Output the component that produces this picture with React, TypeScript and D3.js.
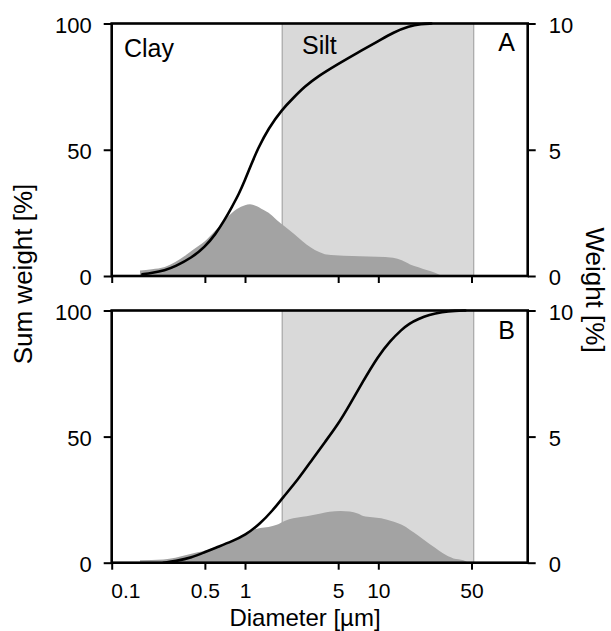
import { useEffect, useRef } from 'react';
import * as d3 from 'd3';

// panel A — cumulative curve (sum weight %) against diameter in µm
const cumSizeA = [0.17, 0.2, 0.25, 0.3, 0.4, 0.5, 0.6, 0.7, 0.8, 0.9, 1.0, 1.1, 1.25, 1.5, 1.9, 2.3, 2.8, 3.5, 5, 7, 10, 13, 17, 21, 25];
const cumValA = [0.7, 1.2, 2.2, 3.8, 7.3, 11.5, 16.5, 22, 27.5, 32.5, 38, 43.5, 50.5, 58.5, 66, 70.5, 75, 79, 84, 88.5, 93, 96.5, 99, 99.8, 100];

// panel A — weight distribution (%)
const histSizeA = [0.163, 0.2, 0.25, 0.3, 0.35, 0.41, 0.5, 0.6, 0.73, 0.87, 1.0, 1.09, 1.2, 1.37, 1.55, 1.73, 2.0, 2.3, 2.7, 3.1, 3.6, 4.1, 5.5, 7.3, 9.8, 12.9, 15, 17.3, 20, 23, 26, 29];
const histValA = [0.22, 0.27, 0.36, 0.55, 0.78, 1.05, 1.38, 1.8, 2.3, 2.65, 2.8, 2.84, 2.78, 2.62, 2.45, 2.22, 1.95, 1.69, 1.38, 1.14, 0.95, 0.85, 0.8, 0.78, 0.76, 0.72, 0.62, 0.46, 0.35, 0.24, 0.15, 0.04];

// panel B
const cumSizeB = [0.245, 0.3, 0.4, 0.5, 0.6, 0.8, 1.0, 1.3, 1.6, 1.9, 2.5, 3.2, 4, 5, 6, 7.6, 10, 12.3, 15, 17, 20, 24, 30, 38, 45];
const cumValB = [0, 0.6, 2.0, 4.2, 5.9, 8.5, 10.8, 15.5, 20.5, 25.5, 33, 41, 48, 55, 62, 71.5, 82, 88, 92.5, 94.8, 96.7, 98.3, 99.4, 99.9, 100];

const histSizeB = [0.163, 0.244, 0.3, 0.41, 0.55, 0.73, 0.97, 1.15, 1.3, 1.5, 1.73, 2.0, 2.3, 2.7, 3.1, 3.7, 4.3, 5.2, 6.1, 7.0, 7.7, 9.0, 10.5, 12.9, 15, 17.3, 20, 23, 26.5, 30.5, 36.6, 43.5, 46];
const histValB = [0.1, 0.13, 0.2, 0.37, 0.53, 0.77, 1.03, 1.3, 1.38, 1.42, 1.5, 1.66, 1.76, 1.82, 1.87, 1.95, 2.02, 2.05, 2.03, 1.95, 1.85, 1.8, 1.76, 1.63, 1.5, 1.3, 1.07, 0.83, 0.6, 0.37, 0.17, 0.1, 0.04];

const siltRange = [1.9, 52];
const xTicks = [0.1, 0.5, 1, 5, 10, 50];
const sumTicks = [0, 50, 100];
const weightTicks = [0, 5, 10];

const font = '"Liberation Sans", Arial, sans-serif';

const App = () => {
    const chartRef = useRef<SVGSVGElement | null>(null);

    useEffect(() => {
        const svg = d3.select(chartRef.current);
        svg.selectAll('*').remove();

        const xScale = d3.scaleLog().domain([0.1, 132]).range([111.7, 527.7]);

        const panels = [
            { top: 23.5, bottom: 276, cs: cumSizeA, cv: cumValA, hs: histSizeA, hv: histValA, tag: 'A', tagY: 51, labels: false },
            { top: 310.5, bottom: 562.7, cs: cumSizeB, cv: cumValB, hs: histSizeB, hv: histValB, tag: 'B', tagY: 339, labels: true },
        ];

        panels.forEach(p => {
            const ySum = d3.scaleLinear().domain([0, 100]).range([p.bottom, p.top]);
            const yW = d3.scaleLinear().domain([0, 10]).range([p.bottom, p.top]);
            const g = svg.append('g');

            // silt band
            g.append('rect')
                .attr('x', xScale(siltRange[0]))
                .attr('y', p.top)
                .attr('width', xScale(siltRange[1]) - xScale(siltRange[0]))
                .attr('height', p.bottom - p.top)
                .attr('fill', '#d9d9d9');
            siltRange.forEach(v => {
                g.append('line')
                    .attr('x1', xScale(v)).attr('x2', xScale(v))
                    .attr('y1', p.top).attr('y2', p.bottom)
                    .attr('stroke', '#9a9a9a').attr('stroke-width', 1);
            });

            const hist = p.hs.map((s, i) => [s, p.hv[i]] as [number, number]);
            g.append('path')
                .datum(hist)
                .attr('fill', '#a3a3a3')
                .attr('d', d3.area<[number, number]>()
                    .x(d => xScale(d[0]))
                    .y0(p.bottom)
                    .y1(d => yW(d[1]))
                    .curve(d3.curveMonotoneX));

            const cum = p.cs.map((s, i) => [s, p.cv[i]] as [number, number]);
            g.append('path')
                .datum(cum)
                .attr('fill', 'none')
                .attr('stroke', '#000')
                .attr('stroke-width', 2.6)
                .attr('stroke-linecap', 'round')
                .attr('d', d3.line<[number, number]>()
                    .x(d => xScale(d[0]))
                    .y(d => ySum(d[1]))
                    .curve(d3.curveBasis));

            // frame
            g.append('rect')
                .attr('x', 111.7).attr('y', p.top)
                .attr('width', 527.7 - 111.7).attr('height', p.bottom - p.top)
                .attr('fill', 'none').attr('stroke', '#000').attr('stroke-width', 2.6);

            const left = g.append('g')
                .attr('transform', 'translate(111.7,0)')
                .call(d3.axisLeft(ySum).tickValues(sumTicks).tickSize(8).tickPadding(12).tickFormat(d3.format('d')));
            const right = g.append('g')
                .attr('transform', 'translate(527.7,0)')
                .call(d3.axisRight(yW).tickValues(weightTicks).tickSize(8).tickPadding(13).tickFormat(d3.format('d')));
            const bottom = g.append('g')
                .attr('transform', `translate(0,${p.bottom})`)
                .call(d3.axisBottom(xScale).tickValues(xTicks).tickSize(7).tickPadding(13).tickFormat(d => p.labels ? String(d) : ''));

            [left, right, bottom].forEach(a => {
                a.select('.domain').remove();
                a.selectAll('line').attr('stroke', '#000').attr('stroke-width', 2);
                a.selectAll('text').style('font-family', font).style('font-size', '22px').attr('fill', '#000');
            });
            left.selectAll('text').attr('dy', '0.4em');
            right.selectAll('text').attr('dy', '0.4em');
            bottom.selectAll('text').style('font-size', '21px');
            bottom.selectAll<SVGTextElement, number>('text')
                .filter(d => d === 0.1)
                .attr('text-anchor', 'start')
                .attr('x', -1);

            g.append('text')
                .attr('x', 515).attr('y', p.tagY)
                .attr('text-anchor', 'end')
                .style('font-family', font).style('font-size', '25px')
                .text(p.tag);
        });

        svg.append('text').attr('x', 124).attr('y', 56.5)
            .style('font-family', font).style('font-size', '25px').text('Clay');
        svg.append('text').attr('x', 302).attr('y', 53.5)
            .style('font-family', font).style('font-size', '25px').text('Silt');

        svg.append('text')
            .attr('transform', 'translate(32,274) rotate(-90)')
            .attr('text-anchor', 'middle')
            .style('font-family', font).style('font-size', '26px')
            .text('Sum weight [%]');
        svg.append('text')
            .attr('transform', 'translate(586,290) rotate(90)')
            .attr('text-anchor', 'middle')
            .style('font-family', font).style('font-size', '26px')
            .text('Weight [%]');
        svg.append('text')
            .attr('x', 305).attr('y', 625.5)
            .attr('text-anchor', 'middle')
            .style('font-family', font).style('font-size', '24px')
            .text('Diameter [µm]');
    }, []);

    return (
        <svg ref={chartRef} width={611} height={631}
            style={{ position: 'absolute', left: 0, top: 0, background: '#fff' }}></svg>
    );
};

export default App;
